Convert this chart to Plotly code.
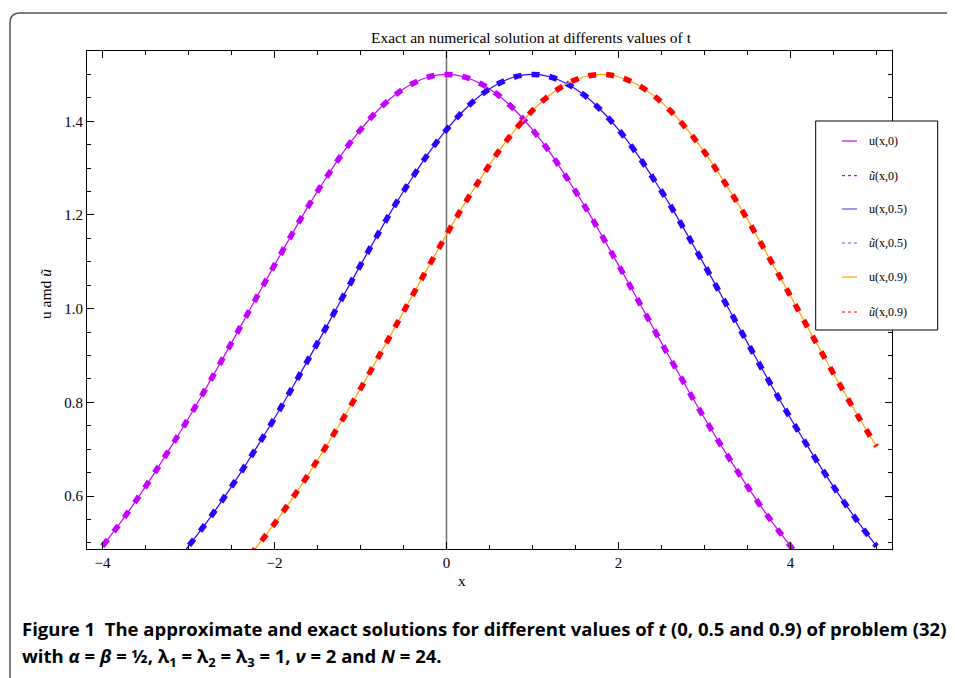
import plotly.graph_objects as go

# x grid (read at 0.2 steps from -4 to 5)
x_vals = [round(-4 + 0.2 * j, 1) for j in range(46)]

# exact solutions u(x,t)
u_t0 = [0.493, 0.541, 0.593, 0.648, 0.706, 0.766, 0.829, 0.894, 0.960, 1.027, 1.093,
        1.158, 1.221, 1.279, 1.334, 1.382, 1.423, 1.456, 1.480, 1.495, 1.500,
        1.495, 1.480, 1.456, 1.423, 1.382, 1.334, 1.279, 1.221, 1.158, 1.093,
        1.027, 0.960, 0.894, 0.829, 0.766, 0.706, 0.648, 0.593, 0.541, 0.493,
        0.448, 0.406, 0.368, 0.333, 0.300]
u_t05 = [0.300, 0.333, 0.368, 0.406, 0.448, 0.493, 0.541, 0.593, 0.648, 0.706, 0.766,
         0.829, 0.894, 0.960, 1.027, 1.093, 1.158, 1.221, 1.279, 1.334, 1.382,
         1.423, 1.456, 1.480, 1.495, 1.500, 1.495, 1.480, 1.456, 1.423, 1.382,
         1.334, 1.279, 1.221, 1.158, 1.093, 1.027, 0.960, 0.894, 0.829, 0.766,
         0.706, 0.648, 0.593, 0.541, 0.493]
u_t09 = [0.197, 0.219, 0.244, 0.271, 0.300, 0.333, 0.368, 0.406, 0.448, 0.493, 0.541,
         0.593, 0.648, 0.706, 0.766, 0.829, 0.894, 0.960, 1.027, 1.093, 1.158,
         1.221, 1.279, 1.334, 1.382, 1.423, 1.456, 1.480, 1.495, 1.500, 1.495,
         1.480, 1.456, 1.423, 1.382, 1.334, 1.279, 1.221, 1.158, 1.093, 1.027,
         0.960, 0.894, 0.829, 0.766, 0.706]

# numerical solutions (visually identical to the exact ones)
ut_t0 = list(u_t0)
ut_t05 = list(u_t05)
ut_t09 = list(u_t09)

legend_labels = ["u(x,0)", "<i>ũ</i>(x,0)", "u(x,0.5)", "<i>ũ</i>(x,0.5)",
                 "u(x,0.9)", "<i>ũ</i>(x,0.9)"]

MAG = "#c400ff"
BLU = "#2a00ff"
ORA = "#ffa500"
RED = "#ff0000"

fig = go.Figure()
pairs = [(u_t0, ut_t0, MAG, MAG), (u_t05, ut_t05, BLU, BLU), (u_t09, ut_t09, ORA, RED)]
for ex, num, c_ex, c_num in pairs:
    fig.add_trace(go.Scatter(x=x_vals, y=ex, mode="lines", line=dict(color=c_ex, width=1.2, shape="spline"),
                             showlegend=False))
    fig.add_trace(go.Scatter(x=x_vals, y=num, mode="lines",
                             line=dict(color=c_num, width=5.5, dash="8px,10px", shape="spline"),
                             showlegend=False))

# plot area in reference pixel coordinates; page body adds an 8px offset
OFF = 8
L, T, R, B = 87, 51, 892, 549
W, H = 955 - OFF, 678 - OFF
PW, PH = R - L, B - T


def px(xp):
    return (xp - L) / PW


def py(yp):
    return (B - yp) / PH


serif = "Liberation Serif"
axis_common = dict(showline=True, linecolor="black", linewidth=1, mirror="allticks",
                   ticks="inside", ticklen=7, tickwidth=1, tickcolor="black",
                   showgrid=False, zeroline=False,
                   tickfont=dict(family=serif, size=15, color="black"))
fig.update_xaxes(range=[-4.18, 5.18], tick0=0, dtick=2,
                 minor=dict(dtick=0.5, ticks="inside", ticklen=4, tickcolor="black", showgrid=False),
                 **axis_common)
fig.update_yaxes(range=[0.487, 1.55], tick0=0, dtick=0.2, tickformat=".1f",
                 minor=dict(dtick=0.05, ticks="inside", ticklen=4, tickcolor="black", showgrid=False),
                 **axis_common)

shapes = []
# vertical axis at x = 0
shapes.append(dict(type="line", xref="x", yref="paper", x0=0, x1=0, y0=0, y1=1,
                   line=dict(color="#707070", width=1.5), layer="below"))
# outer rounded frame
path = "M {a},{b} L {a},{c} Q {a},{d} {e},{d} L {f},{d}".format(
    a=px(10), b=py(700), c=py(23), d=py(13), e=px(20), f=px(975))
shapes.append(dict(type="path", xref="paper", yref="paper", path=path,
                   line=dict(color="#555555", width=1.5)))
# legend box
shapes.append(dict(type="rect", xref="paper", yref="paper", x0=px(815.7), x1=px(937.7),
                   y0=py(330), y1=py(121), fillcolor="white", line=dict(color="black", width=1),
                   layer="above"))

annotations = []
entry_y = [141, 175.7, 209, 243, 277, 312]
entry_col = [MAG, MAG, "#5a50ff", "#5a50ff", ORA, RED]
entry_dash = ["solid", "dot", "solid", "dot", "solid", "dot"]
for yy, col, dsh, lab in zip(entry_y, entry_col, entry_dash, legend_labels):
    shapes.append(dict(type="line", xref="paper", yref="paper", x0=px(842), x1=px(857),
                       y0=py(yy), y1=py(yy), line=dict(color=col, width=1.2, dash=dsh), layer="above"))
    annotations.append(dict(xref="paper", yref="paper", x=px(867), y=py(yy), xanchor="left",
                            yanchor="middle", showarrow=False, text=lab,
                            font=dict(family=serif, size=12, color="black")))

annotations.append(dict(xref="paper", yref="paper", x=px(531), y=py(37), showarrow=False,
                        text="Exact an numerical solution at differents values of t",
                        font=dict(family=serif, size=15.5, color="black"), xanchor="center", yanchor="middle"))
annotations.append(dict(xref="paper", yref="paper", x=px(45), y=py(294), showarrow=False,
                        text="u amd <i>ũ</i>", textangle=-90,
                        font=dict(family=serif, size=15.5, color="black"), xanchor="center", yanchor="middle"))
annotations.append(dict(xref="paper", yref="paper", x=px(462), y=py(580), showarrow=False,
                        text="x", font=dict(family=serif, size=15.5, color="black"),
                        xanchor="center", yanchor="middle"))
cap_font = dict(family="Open Sans", size=18.5, color="black")
annotations.append(dict(xref="paper", yref="paper", x=px(20), y=py(628), showarrow=False,
                        xanchor="left", yanchor="middle", font=cap_font,
                        text="<b>Figure 1  The approximate and exact solutions for different values of <i>t</i> "
                             "(0, 0.5 and 0.9) of problem (32)</b>"))
annotations.append(dict(xref="paper", yref="paper", x=px(20), y=py(657), showarrow=False,
                        xanchor="left", yanchor="middle", font=cap_font,
                        text="<b>with <i>α</i> = <i>β</i> = ½, λ<sub>1</sub> = λ<sub>2</sub> = λ<sub>3</sub> = 1, "
                             "<i>ν</i> = 2 and <i>N</i> = 24.</b>"))

fig.update_layout(width=W, height=H, margin=dict(l=L - OFF, r=W - (R - OFF), t=T - OFF, b=H - (B - OFF)),
                  plot_bgcolor="white", paper_bgcolor="white",
                  shapes=shapes, annotations=annotations, showlegend=False)

fig.write_html("out.html")
